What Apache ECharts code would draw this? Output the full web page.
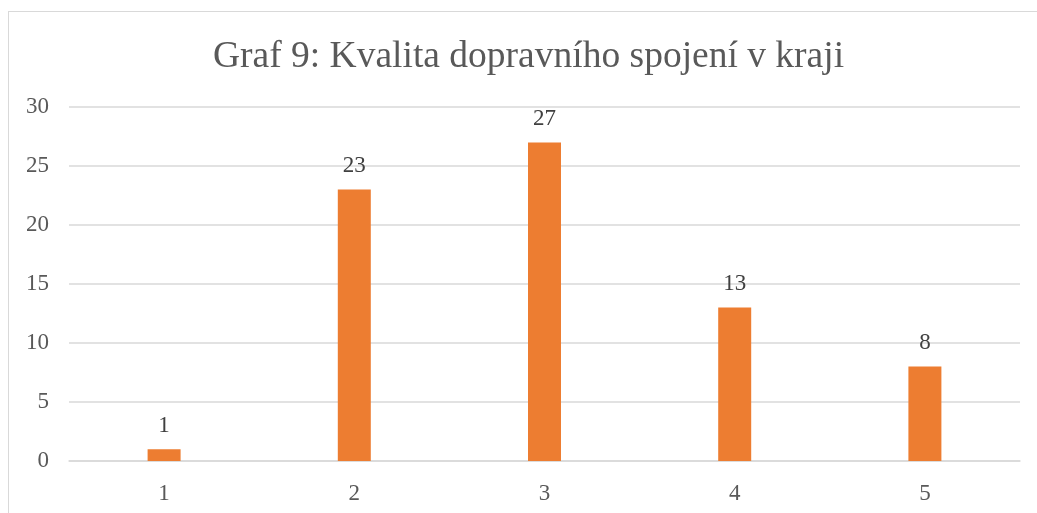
<!DOCTYPE html>
<html lang="en">
  <head>
    <meta charset="UTF-8" />
    <title>Graf 9</title>
    <script src="https://cdn.jsdelivr.net/npm/echarts@6.0.0/dist/echarts.min.js"></script>
    <style>
      html, body { margin: 0; padding: 0; background: #fff; }
      #frame {
        position: absolute; left: 8px; top: 11px; width: 1100px; height: 600px;
        border: 1px solid #d9d9d9; box-sizing: border-box;
      }
      #main { position: absolute; left: 0; top: 0; width: 1037px; height: 513px; }
    </style>
  </head>
  <body>
    <div id="frame"></div>
    <div id="main"></div>
    <script>
      // chart data
      let categories = ["1", "2", "3", "4", "5"];
      let counts = [1, 23, 27, 13, 8];
      let yTicks = { min: 0, max: 30, interval: 5 };

      let textColor = "#595959";
      let font = "'Liberation Serif', 'Times New Roman', serif";

      let myChart = echarts.init(document.getElementById("main"));

      let options = {
        animation: false,
        title: {
          text: "Graf 9: Kvalita dopravního spojení v kraji",
          left: 213,
          top: 38,
          padding: 0,
          textStyle: {
            fontFamily: font,
            fontSize: 37.5,
            fontWeight: "normal",
            color: textColor,
          },
        },
        grid: { left: 69, right: 17, top: 107, bottom: 52 },
        xAxis: {
          type: "category",
          data: categories,
          axisLine: { lineStyle: { color: "#d9d9d9", width: 1.5 } },
          axisTick: { show: false },
          axisLabel: {
            color: textColor,
            fontFamily: font,
            fontSize: 23,
            margin: 21,
          },
        },
        yAxis: {
          type: "value",
          min: yTicks.min,
          max: yTicks.max,
          interval: yTicks.interval,
          axisLine: { show: false },
          axisTick: { show: false },
          splitLine: { lineStyle: { color: "#d9d9d9", width: 1.5 } },
          axisLabel: {
            color: textColor,
            fontFamily: font,
            fontSize: 23,
            margin: 20,
          },
        },
        series: [
          {
            name: "Počet",
            type: "bar",
            data: counts,
            barWidth: 33,
            itemStyle: { color: "#ED7D31" },
            label: {
              show: true,
              position: "top",
              distance: 12,
              color: "#404040",
              fontFamily: font,
              fontSize: 23,
            },
          },
        ],
      };

      myChart.setOption(options);
    </script>
  </body>
</html>
